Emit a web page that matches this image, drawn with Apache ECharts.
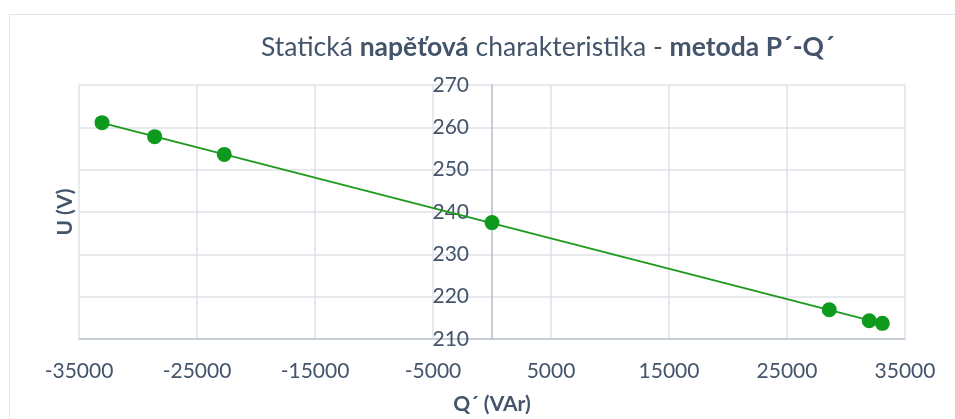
<!DOCTYPE html>
<html>
<head>
<meta charset="utf-8">
<script src="https://cdn.jsdelivr.net/npm/echarts@6/dist/echarts.min.js"></script>
<style>
html,body{margin:0;padding:0;background:#fff;}
#chart{width:955px;height:419px;}
</style>
</head>
<body>
<div id="chart"></div>
<script>
// Data
const qValues = [-33050, -28590, -22690, 0, 28580, 31970, 33080];   // Q´ (VAr)
const uValues = [261.1, 257.8, 253.6, 237.5, 216.9, 214.3, 213.7];  // U (V)
const xTicks = [-35000, -25000, -15000, -5000, 5000, 15000, 25000, 35000];
const yTicks = [210, 220, 230, 240, 250, 260, 270];

const points = qValues.map((q, i) => [q, uValues[i]]);

// Linear trendline (least squares) fitted to the measured points
const n = qValues.length;
const mx = qValues.reduce((a, b) => a + b, 0) / n;
const my = uValues.reduce((a, b) => a + b, 0) / n;
let sxy = 0, sxx = 0;
for (let i = 0; i < n; i++) { sxy += (qValues[i] - mx) * (uValues[i] - my); sxx += (qValues[i] - mx) ** 2; }
const slope = sxy / sxx, intercept = my - slope * mx;
const qMin = Math.min(...qValues), qMax = Math.max(...qValues);
const trend = [[qMin, intercept + slope * qMin], [qMax, intercept + slope * qMax]];

const textColor = '#44546A';
const font = 'Lato, "Open Sans", sans-serif';
const gridLeft = 79, gridRight = 50;
// horizontal pixel position of Q´ = 0 inside the grid, used to place the vertical axis there
const plotW = 955 - gridLeft - gridRight;
const zeroOffset = plotW * (0 - xTicks[0]) / (xTicks[xTicks.length - 1] - xTicks[0]);

const chart = echarts.init(document.getElementById('chart'));
chart.setOption({
  animation: false,
  textStyle: { fontFamily: font },
  graphic: [{
    type: 'rect', left: 7, top: 12, silent: true,
    shape: { width: 1000, height: 1000 },
    style: { fill: 'none', stroke: '#e0e3e8', lineWidth: 1 }
  }],
  title: {
    left: 256, top: 29,
    text: 'Statická {b|napěťová} charakteristika - {b|metoda P´-Q´}',
    textStyle: {
      fontFamily: font, fontSize: 26.5, fontWeight: 'normal', color: textColor,
      rich: { b: { fontFamily: font, fontSize: 26.5, fontWeight: 'bold', color: textColor } }
    }
  },
  grid: { left: gridLeft, right: gridRight, top: 85, bottom: 80, containLabel: false, outerBoundsMode: 'none' },
  xAxis: {
    type: 'value', min: xTicks[0], max: xTicks[xTicks.length - 1], interval: 10000,
    name: 'Q´ (VAr)', nameLocation: 'middle', nameGap: 55,
    nameTextStyle: { fontFamily: font, fontSize: 21, fontWeight: 'bold', color: textColor },
    axisLine: { onZero: false, lineStyle: { color: '#bcc3cf', width: 1.5 } },
    axisTick: { show: false },
    axisLabel: { margin: 22, fontFamily: font, fontSize: 21, color: textColor, showMinLabel: true, showMaxLabel: true,
      formatter: v => String(v) },
    splitLine: { show: true, lineStyle: { color: '#dfe2e8', width: 1.5 } }
  },
  yAxis: {
    type: 'value', min: yTicks[0], max: yTicks[yTicks.length - 1], interval: 10,
    position: 'left', offset: -zeroOffset,
    name: 'U (V)', nameLocation: 'middle', nameGap: 416, nameRotate: 90,
    nameTextStyle: { fontFamily: font, fontSize: 21, fontWeight: 'bold', color: textColor },
    axisLine: { show: true, onZero: false, lineStyle: { color: '#b4bccb', width: 1.5 } },
    axisTick: { show: false },
    axisLabel: { margin: 23, fontFamily: font, fontSize: 21, color: textColor, formatter: v => String(v) },
    splitLine: { show: true, lineStyle: { color: '#dfe2e8', width: 1.5 } }
  },
  series: [
    {
      type: 'line', data: trend, symbol: 'none', silent: true,
      lineStyle: { color: '#1c9a1c', width: 1.8 }, z: 2
    },
    {
      type: 'scatter', data: points, symbol: 'circle', symbolSize: 15,
      itemStyle: { color: '#0e9a1e', opacity: 1 }, z: 3
    }
  ]
});
</script>
</body>
</html>
